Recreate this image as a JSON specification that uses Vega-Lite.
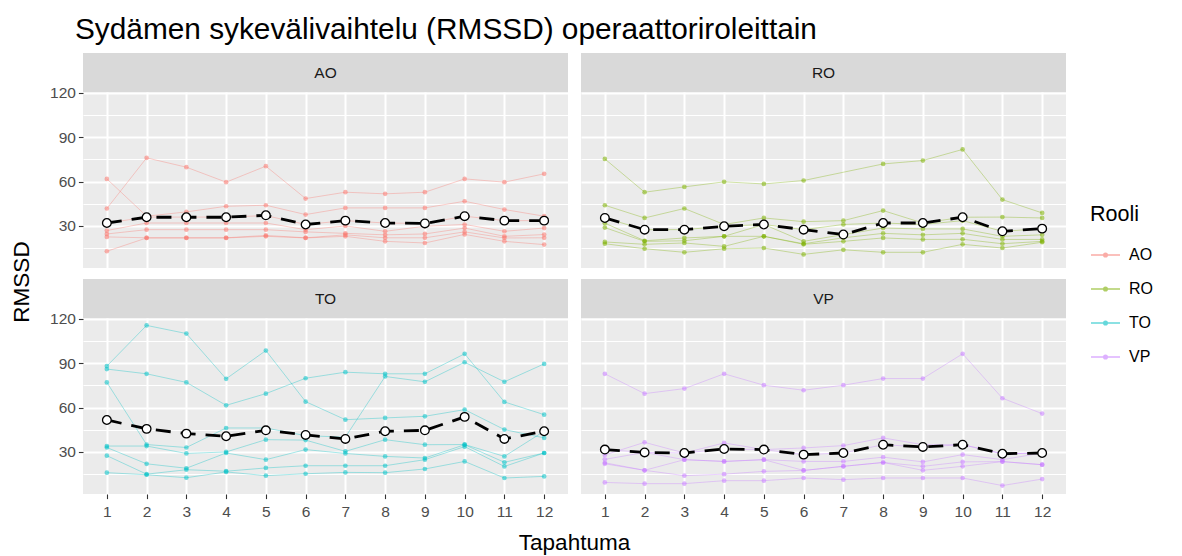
{
"$schema":"https://vega.github.io/schema/vega-lite/v6.json",
"padding":{"left":10,"top":15,"right":0,"bottom":0},
"title":{"text":"Sydämen sykevälivaihtelu (RMSSD) operaattoriroleittain","anchor":"start","frame":"group","fontSize":29.8,"fontWeight":"normal","color":"black","offset":-16,"baseline":"alphabetic","dx":65},
"config":{"font":"Liberation Sans","view":{"stroke":null},"range":{"category":["#F8766D","#7CAE00","#00BFC4","#C77CFF"]},
"axis":{"domain":false,"gridColor":"#FFFFFF","gridWidth":2,"gridOpacity":1,"labelColor":"#4D4D4D","labelFontSize":15.5,"tickColor":"#333333","tickSize":4.6,"tickWidth":1.1,"labelPadding":3,"labelFlush":false,"title":null},
"axisX":{"labelPadding":6}},
"datasets":{
"subjects":[
{"Rooli":"AO","Henkilo":"A1","Tapahtuma":1,"RMSSD":61.8},{"Rooli":"AO","Henkilo":"A1","Tapahtuma":2,"RMSSD":36.6},{"Rooli":"AO","Henkilo":"A1","Tapahtuma":3,"RMSSD":39.5},{"Rooli":"AO","Henkilo":"A1","Tapahtuma":4,"RMSSD":43.3},{"Rooli":"AO","Henkilo":"A1","Tapahtuma":5,"RMSSD":44},{"Rooli":"AO","Henkilo":"A1","Tapahtuma":6,"RMSSD":37.7},{"Rooli":"AO","Henkilo":"A1","Tapahtuma":7,"RMSSD":42.2},{"Rooli":"AO","Henkilo":"A1","Tapahtuma":8,"RMSSD":42.2},{"Rooli":"AO","Henkilo":"A1","Tapahtuma":9,"RMSSD":42.2},{"Rooli":"AO","Henkilo":"A1","Tapahtuma":10,"RMSSD":46.7},{"Rooli":"AO","Henkilo":"A1","Tapahtuma":11,"RMSSD":41.1},{"Rooli":"AO","Henkilo":"A1","Tapahtuma":12,"RMSSD":36.6},
{"Rooli":"AO","Henkilo":"A2","Tapahtuma":1,"RMSSD":41.8},{"Rooli":"AO","Henkilo":"A2","Tapahtuma":2,"RMSSD":76},{"Rooli":"AO","Henkilo":"A2","Tapahtuma":3,"RMSSD":69.7},{"Rooli":"AO","Henkilo":"A2","Tapahtuma":4,"RMSSD":59.6},{"Rooli":"AO","Henkilo":"A2","Tapahtuma":5,"RMSSD":70.4},{"Rooli":"AO","Henkilo":"A2","Tapahtuma":6,"RMSSD":48.5},{"Rooli":"AO","Henkilo":"A2","Tapahtuma":7,"RMSSD":52.8},{"Rooli":"AO","Henkilo":"A2","Tapahtuma":8,"RMSSD":51.7},{"Rooli":"AO","Henkilo":"A2","Tapahtuma":9,"RMSSD":52.8},{"Rooli":"AO","Henkilo":"A2","Tapahtuma":10,"RMSSD":61.8},{"Rooli":"AO","Henkilo":"A2","Tapahtuma":11,"RMSSD":59.6},{"Rooli":"AO","Henkilo":"A2","Tapahtuma":12,"RMSSD":65.2},
{"Rooli":"AO","Henkilo":"A3","Tapahtuma":1,"RMSSD":32},{"Rooli":"AO","Henkilo":"A3","Tapahtuma":2,"RMSSD":36},{"Rooli":"AO","Henkilo":"A3","Tapahtuma":3,"RMSSD":36},{"Rooli":"AO","Henkilo":"A3","Tapahtuma":4,"RMSSD":36},{"Rooli":"AO","Henkilo":"A3","Tapahtuma":5,"RMSSD":37},{"Rooli":"AO","Henkilo":"A3","Tapahtuma":6,"RMSSD":31},{"Rooli":"AO","Henkilo":"A3","Tapahtuma":7,"RMSSD":33.6},{"Rooli":"AO","Henkilo":"A3","Tapahtuma":8,"RMSSD":32},{"Rooli":"AO","Henkilo":"A3","Tapahtuma":9,"RMSSD":31.7},{"Rooli":"AO","Henkilo":"A3","Tapahtuma":10,"RMSSD":36.6},{"Rooli":"AO","Henkilo":"A3","Tapahtuma":11,"RMSSD":33.6},{"Rooli":"AO","Henkilo":"A3","Tapahtuma":12,"RMSSD":33.6},
{"Rooli":"AO","Henkilo":"A4","Tapahtuma":1,"RMSSD":26.9},{"Rooli":"AO","Henkilo":"A4","Tapahtuma":2,"RMSSD":32},{"Rooli":"AO","Henkilo":"A4","Tapahtuma":3,"RMSSD":32},{"Rooli":"AO","Henkilo":"A4","Tapahtuma":4,"RMSSD":32},{"Rooli":"AO","Henkilo":"A4","Tapahtuma":5,"RMSSD":32},{"Rooli":"AO","Henkilo":"A4","Tapahtuma":6,"RMSSD":27.5},{"Rooli":"AO","Henkilo":"A4","Tapahtuma":7,"RMSSD":30},{"Rooli":"AO","Henkilo":"A4","Tapahtuma":8,"RMSSD":26.4},{"Rooli":"AO","Henkilo":"A4","Tapahtuma":9,"RMSSD":29.8},{"Rooli":"AO","Henkilo":"A4","Tapahtuma":10,"RMSSD":31},{"Rooli":"AO","Henkilo":"A4","Tapahtuma":11,"RMSSD":26.4},{"Rooli":"AO","Henkilo":"A4","Tapahtuma":12,"RMSSD":28.6},
{"Rooli":"AO","Henkilo":"A5","Tapahtuma":1,"RMSSD":24.6},{"Rooli":"AO","Henkilo":"A5","Tapahtuma":2,"RMSSD":27.5},{"Rooli":"AO","Henkilo":"A5","Tapahtuma":3,"RMSSD":27.5},{"Rooli":"AO","Henkilo":"A5","Tapahtuma":4,"RMSSD":27.5},{"Rooli":"AO","Henkilo":"A5","Tapahtuma":5,"RMSSD":27.5},{"Rooli":"AO","Henkilo":"A5","Tapahtuma":6,"RMSSD":26},{"Rooli":"AO","Henkilo":"A5","Tapahtuma":7,"RMSSD":25},{"Rooli":"AO","Henkilo":"A5","Tapahtuma":8,"RMSSD":24},{"Rooli":"AO","Henkilo":"A5","Tapahtuma":9,"RMSSD":24.6},{"Rooli":"AO","Henkilo":"A5","Tapahtuma":10,"RMSSD":28.6},{"Rooli":"AO","Henkilo":"A5","Tapahtuma":11,"RMSSD":23},{"Rooli":"AO","Henkilo":"A5","Tapahtuma":12,"RMSSD":24.2},
{"Rooli":"AO","Henkilo":"A6","Tapahtuma":1,"RMSSD":22.6},{"Rooli":"AO","Henkilo":"A6","Tapahtuma":2,"RMSSD":22},{"Rooli":"AO","Henkilo":"A6","Tapahtuma":3,"RMSSD":22},{"Rooli":"AO","Henkilo":"A6","Tapahtuma":4,"RMSSD":22},{"Rooli":"AO","Henkilo":"A6","Tapahtuma":5,"RMSSD":23.6},{"Rooli":"AO","Henkilo":"A6","Tapahtuma":6,"RMSSD":22},{"Rooli":"AO","Henkilo":"A6","Tapahtuma":7,"RMSSD":24},{"Rooli":"AO","Henkilo":"A6","Tapahtuma":8,"RMSSD":22},{"Rooli":"AO","Henkilo":"A6","Tapahtuma":9,"RMSSD":22},{"Rooli":"AO","Henkilo":"A6","Tapahtuma":10,"RMSSD":26},{"Rooli":"AO","Henkilo":"A6","Tapahtuma":11,"RMSSD":21.9},{"Rooli":"AO","Henkilo":"A6","Tapahtuma":12,"RMSSD":22},
{"Rooli":"AO","Henkilo":"A7","Tapahtuma":1,"RMSSD":12.9},{"Rooli":"AO","Henkilo":"A7","Tapahtuma":2,"RMSSD":21.9},{"Rooli":"AO","Henkilo":"A7","Tapahtuma":3,"RMSSD":21.9},{"Rooli":"AO","Henkilo":"A7","Tapahtuma":4,"RMSSD":21.9},{"Rooli":"AO","Henkilo":"A7","Tapahtuma":5,"RMSSD":23},{"Rooli":"AO","Henkilo":"A7","Tapahtuma":6,"RMSSD":21.9},{"Rooli":"AO","Henkilo":"A7","Tapahtuma":7,"RMSSD":23},{"Rooli":"AO","Henkilo":"A7","Tapahtuma":8,"RMSSD":19.6},{"Rooli":"AO","Henkilo":"A7","Tapahtuma":9,"RMSSD":18.5},{"Rooli":"AO","Henkilo":"A7","Tapahtuma":10,"RMSSD":24.3},{"Rooli":"AO","Henkilo":"A7","Tapahtuma":11,"RMSSD":19.6},{"Rooli":"AO","Henkilo":"A7","Tapahtuma":12,"RMSSD":17.4},
{"Rooli":"RO","Henkilo":"R1","Tapahtuma":1,"RMSSD":75.3},{"Rooli":"RO","Henkilo":"R1","Tapahtuma":2,"RMSSD":52.8},{"Rooli":"RO","Henkilo":"R1","Tapahtuma":3,"RMSSD":56.4},{"Rooli":"RO","Henkilo":"R1","Tapahtuma":4,"RMSSD":59.8},{"Rooli":"RO","Henkilo":"R1","Tapahtuma":5,"RMSSD":58.4},{"Rooli":"RO","Henkilo":"R1","Tapahtuma":6,"RMSSD":60.7},{"Rooli":"RO","Henkilo":"R1","Tapahtuma":8,"RMSSD":71.9},{"Rooli":"RO","Henkilo":"R1","Tapahtuma":9,"RMSSD":74.2},{"Rooli":"RO","Henkilo":"R1","Tapahtuma":10,"RMSSD":81.7},{"Rooli":"RO","Henkilo":"R1","Tapahtuma":11,"RMSSD":47.8},{"Rooli":"RO","Henkilo":"R1","Tapahtuma":12,"RMSSD":38.8},
{"Rooli":"RO","Henkilo":"R2","Tapahtuma":1,"RMSSD":44},{"Rooli":"RO","Henkilo":"R2","Tapahtuma":2,"RMSSD":35.4},{"Rooli":"RO","Henkilo":"R2","Tapahtuma":3,"RMSSD":41.8},{"Rooli":"RO","Henkilo":"R2","Tapahtuma":4,"RMSSD":31},{"Rooli":"RO","Henkilo":"R2","Tapahtuma":5,"RMSSD":35.4},{"Rooli":"RO","Henkilo":"R2","Tapahtuma":6,"RMSSD":32.9},{"Rooli":"RO","Henkilo":"R2","Tapahtuma":7,"RMSSD":33.6},{"Rooli":"RO","Henkilo":"R2","Tapahtuma":8,"RMSSD":40.4},{"Rooli":"RO","Henkilo":"R2","Tapahtuma":9,"RMSSD":32},{"Rooli":"RO","Henkilo":"R2","Tapahtuma":10,"RMSSD":35.9},{"Rooli":"RO","Henkilo":"R2","Tapahtuma":11,"RMSSD":36},{"Rooli":"RO","Henkilo":"R2","Tapahtuma":12,"RMSSD":35.4},
{"Rooli":"RO","Henkilo":"R3","Tapahtuma":1,"RMSSD":35.4},{"Rooli":"RO","Henkilo":"R3","Tapahtuma":2,"RMSSD":27.5},{"Rooli":"RO","Henkilo":"R3","Tapahtuma":3,"RMSSD":27.5},{"Rooli":"RO","Henkilo":"R3","Tapahtuma":4,"RMSSD":29.8},{"Rooli":"RO","Henkilo":"R3","Tapahtuma":5,"RMSSD":31},{"Rooli":"RO","Henkilo":"R3","Tapahtuma":6,"RMSSD":27.5},{"Rooli":"RO","Henkilo":"R3","Tapahtuma":7,"RMSSD":31},{"Rooli":"RO","Henkilo":"R3","Tapahtuma":8,"RMSSD":32},{"Rooli":"RO","Henkilo":"R3","Tapahtuma":9,"RMSSD":31},{"Rooli":"RO","Henkilo":"R3","Tapahtuma":10,"RMSSD":33.6},{"Rooli":"RO","Henkilo":"R3","Tapahtuma":11,"RMSSD":26.4},{"Rooli":"RO","Henkilo":"R3","Tapahtuma":12,"RMSSD":28.2},
{"Rooli":"RO","Henkilo":"R4","Tapahtuma":1,"RMSSD":31.9},{"Rooli":"RO","Henkilo":"R4","Tapahtuma":2,"RMSSD":20},{"Rooli":"RO","Henkilo":"R4","Tapahtuma":3,"RMSSD":21.9},{"Rooli":"RO","Henkilo":"R4","Tapahtuma":4,"RMSSD":23},{"Rooli":"RO","Henkilo":"R4","Tapahtuma":5,"RMSSD":31},{"Rooli":"RO","Henkilo":"R4","Tapahtuma":6,"RMSSD":19.6},{"Rooli":"RO","Henkilo":"R4","Tapahtuma":7,"RMSSD":24.2},{"Rooli":"RO","Henkilo":"R4","Tapahtuma":8,"RMSSD":28.6},{"Rooli":"RO","Henkilo":"R4","Tapahtuma":9,"RMSSD":28},{"Rooli":"RO","Henkilo":"R4","Tapahtuma":10,"RMSSD":28},{"Rooli":"RO","Henkilo":"R4","Tapahtuma":11,"RMSSD":23},{"Rooli":"RO","Henkilo":"R4","Tapahtuma":12,"RMSSD":24},
{"Rooli":"RO","Henkilo":"R5","Tapahtuma":1,"RMSSD":28.9},{"Rooli":"RO","Henkilo":"R5","Tapahtuma":2,"RMSSD":19.6},{"Rooli":"RO","Henkilo":"R5","Tapahtuma":3,"RMSSD":20},{"Rooli":"RO","Henkilo":"R5","Tapahtuma":4,"RMSSD":23},{"Rooli":"RO","Henkilo":"R5","Tapahtuma":5,"RMSSD":23},{"Rooli":"RO","Henkilo":"R5","Tapahtuma":6,"RMSSD":18},{"Rooli":"RO","Henkilo":"R5","Tapahtuma":7,"RMSSD":22},{"Rooli":"RO","Henkilo":"R5","Tapahtuma":8,"RMSSD":25},{"Rooli":"RO","Henkilo":"R5","Tapahtuma":9,"RMSSD":24},{"Rooli":"RO","Henkilo":"R5","Tapahtuma":10,"RMSSD":25},{"Rooli":"RO","Henkilo":"R5","Tapahtuma":11,"RMSSD":20.9},{"Rooli":"RO","Henkilo":"R5","Tapahtuma":12,"RMSSD":20.9},
{"Rooli":"RO","Henkilo":"R6","Tapahtuma":1,"RMSSD":19.2},{"Rooli":"RO","Henkilo":"R6","Tapahtuma":2,"RMSSD":17.6},{"Rooli":"RO","Henkilo":"R6","Tapahtuma":3,"RMSSD":18.5},{"Rooli":"RO","Henkilo":"R6","Tapahtuma":4,"RMSSD":16.2},{"Rooli":"RO","Henkilo":"R6","Tapahtuma":5,"RMSSD":23},{"Rooli":"RO","Henkilo":"R6","Tapahtuma":6,"RMSSD":17.6},{"Rooli":"RO","Henkilo":"R6","Tapahtuma":7,"RMSSD":19.6},{"Rooli":"RO","Henkilo":"R6","Tapahtuma":8,"RMSSD":21.9},{"Rooli":"RO","Henkilo":"R6","Tapahtuma":9,"RMSSD":20.9},{"Rooli":"RO","Henkilo":"R6","Tapahtuma":10,"RMSSD":21},{"Rooli":"RO","Henkilo":"R6","Tapahtuma":11,"RMSSD":18},{"Rooli":"RO","Henkilo":"R6","Tapahtuma":12,"RMSSD":19.6},
{"Rooli":"RO","Henkilo":"R7","Tapahtuma":1,"RMSSD":18},{"Rooli":"RO","Henkilo":"R7","Tapahtuma":2,"RMSSD":14.6},{"Rooli":"RO","Henkilo":"R7","Tapahtuma":3,"RMSSD":12.2},{"Rooli":"RO","Henkilo":"R7","Tapahtuma":4,"RMSSD":14.6},{"Rooli":"RO","Henkilo":"R7","Tapahtuma":5,"RMSSD":15.1},{"Rooli":"RO","Henkilo":"R7","Tapahtuma":6,"RMSSD":10.8},{"Rooli":"RO","Henkilo":"R7","Tapahtuma":7,"RMSSD":13.9},{"Rooli":"RO","Henkilo":"R7","Tapahtuma":8,"RMSSD":12.2},{"Rooli":"RO","Henkilo":"R7","Tapahtuma":9,"RMSSD":12.2},{"Rooli":"RO","Henkilo":"R7","Tapahtuma":10,"RMSSD":17.6},{"Rooli":"RO","Henkilo":"R7","Tapahtuma":11,"RMSSD":15.1},{"Rooli":"RO","Henkilo":"R7","Tapahtuma":12,"RMSSD":19},
{"Rooli":"TO","Henkilo":"T1","Tapahtuma":1,"RMSSD":88},{"Rooli":"TO","Henkilo":"T1","Tapahtuma":2,"RMSSD":115.5},{"Rooli":"TO","Henkilo":"T1","Tapahtuma":3,"RMSSD":110},{"Rooli":"TO","Henkilo":"T1","Tapahtuma":4,"RMSSD":79.4},{"Rooli":"TO","Henkilo":"T1","Tapahtuma":5,"RMSSD":98.5},{"Rooli":"TO","Henkilo":"T1","Tapahtuma":6,"RMSSD":64},{"Rooli":"TO","Henkilo":"T1","Tapahtuma":7,"RMSSD":51.8},{"Rooli":"TO","Henkilo":"T1","Tapahtuma":8,"RMSSD":53},{"Rooli":"TO","Henkilo":"T1","Tapahtuma":9,"RMSSD":54.1},{"Rooli":"TO","Henkilo":"T1","Tapahtuma":10,"RMSSD":58.6},{"Rooli":"TO","Henkilo":"T1","Tapahtuma":11,"RMSSD":45.1},{"Rooli":"TO","Henkilo":"T1","Tapahtuma":12,"RMSSD":39.5},
{"Rooli":"TO","Henkilo":"T2","Tapahtuma":1,"RMSSD":86},{"Rooli":"TO","Henkilo":"T2","Tapahtuma":2,"RMSSD":82.8},{"Rooli":"TO","Henkilo":"T2","Tapahtuma":3,"RMSSD":77},{"Rooli":"TO","Henkilo":"T2","Tapahtuma":4,"RMSSD":61.5},{"Rooli":"TO","Henkilo":"T2","Tapahtuma":5,"RMSSD":69.4},{"Rooli":"TO","Henkilo":"T2","Tapahtuma":6,"RMSSD":79.8},{"Rooli":"TO","Henkilo":"T2","Tapahtuma":7,"RMSSD":83.9},{"Rooli":"TO","Henkilo":"T2","Tapahtuma":8,"RMSSD":82.8},{"Rooli":"TO","Henkilo":"T2","Tapahtuma":9,"RMSSD":82.8},{"Rooli":"TO","Henkilo":"T2","Tapahtuma":10,"RMSSD":96.3},{"Rooli":"TO","Henkilo":"T2","Tapahtuma":11,"RMSSD":63.8},{"Rooli":"TO","Henkilo":"T2","Tapahtuma":12,"RMSSD":55.2},
{"Rooli":"TO","Henkilo":"T3","Tapahtuma":1,"RMSSD":77},{"Rooli":"TO","Henkilo":"T3","Tapahtuma":2,"RMSSD":35},{"Rooli":"TO","Henkilo":"T3","Tapahtuma":3,"RMSSD":33},{"Rooli":"TO","Henkilo":"T3","Tapahtuma":4,"RMSSD":46.2},{"Rooli":"TO","Henkilo":"T3","Tapahtuma":5,"RMSSD":46.2},{"Rooli":"TO","Henkilo":"T3","Tapahtuma":6,"RMSSD":41},{"Rooli":"TO","Henkilo":"T3","Tapahtuma":7,"RMSSD":40},{"Rooli":"TO","Henkilo":"T3","Tapahtuma":8,"RMSSD":81},{"Rooli":"TO","Henkilo":"T3","Tapahtuma":9,"RMSSD":77.4},{"Rooli":"TO","Henkilo":"T3","Tapahtuma":10,"RMSSD":90.6},{"Rooli":"TO","Henkilo":"T3","Tapahtuma":11,"RMSSD":77.4},{"Rooli":"TO","Henkilo":"T3","Tapahtuma":12,"RMSSD":89.5},
{"Rooli":"TO","Henkilo":"T4","Tapahtuma":1,"RMSSD":34},{"Rooli":"TO","Henkilo":"T4","Tapahtuma":2,"RMSSD":34},{"Rooli":"TO","Henkilo":"T4","Tapahtuma":3,"RMSSD":29},{"Rooli":"TO","Henkilo":"T4","Tapahtuma":4,"RMSSD":30},{"Rooli":"TO","Henkilo":"T4","Tapahtuma":5,"RMSSD":38.3},{"Rooli":"TO","Henkilo":"T4","Tapahtuma":6,"RMSSD":38},{"Rooli":"TO","Henkilo":"T4","Tapahtuma":7,"RMSSD":30.4},{"Rooli":"TO","Henkilo":"T4","Tapahtuma":8,"RMSSD":38.3},{"Rooli":"TO","Henkilo":"T4","Tapahtuma":9,"RMSSD":34.9},{"Rooli":"TO","Henkilo":"T4","Tapahtuma":10,"RMSSD":35},{"Rooli":"TO","Henkilo":"T4","Tapahtuma":11,"RMSSD":27},{"Rooli":"TO","Henkilo":"T4","Tapahtuma":12,"RMSSD":44},
{"Rooli":"TO","Henkilo":"T5","Tapahtuma":1,"RMSSD":33},{"Rooli":"TO","Henkilo":"T5","Tapahtuma":2,"RMSSD":22},{"Rooli":"TO","Henkilo":"T5","Tapahtuma":3,"RMSSD":19},{"Rooli":"TO","Henkilo":"T5","Tapahtuma":4,"RMSSD":29.3},{"Rooli":"TO","Henkilo":"T5","Tapahtuma":5,"RMSSD":24.8},{"Rooli":"TO","Henkilo":"T5","Tapahtuma":6,"RMSSD":31.6},{"Rooli":"TO","Henkilo":"T5","Tapahtuma":7,"RMSSD":29},{"Rooli":"TO","Henkilo":"T5","Tapahtuma":8,"RMSSD":27},{"Rooli":"TO","Henkilo":"T5","Tapahtuma":9,"RMSSD":25.9},{"Rooli":"TO","Henkilo":"T5","Tapahtuma":10,"RMSSD":34.9},{"Rooli":"TO","Henkilo":"T5","Tapahtuma":11,"RMSSD":23},{"Rooli":"TO","Henkilo":"T5","Tapahtuma":12,"RMSSD":29.3},
{"Rooli":"TO","Henkilo":"T6","Tapahtuma":1,"RMSSD":27.5},{"Rooli":"TO","Henkilo":"T6","Tapahtuma":2,"RMSSD":15},{"Rooli":"TO","Henkilo":"T6","Tapahtuma":3,"RMSSD":18},{"Rooli":"TO","Henkilo":"T6","Tapahtuma":4,"RMSSD":17},{"Rooli":"TO","Henkilo":"T6","Tapahtuma":5,"RMSSD":19.2},{"Rooli":"TO","Henkilo":"T6","Tapahtuma":6,"RMSSD":20.7},{"Rooli":"TO","Henkilo":"T6","Tapahtuma":7,"RMSSD":20.7},{"Rooli":"TO","Henkilo":"T6","Tapahtuma":8,"RMSSD":20.7},{"Rooli":"TO","Henkilo":"T6","Tapahtuma":9,"RMSSD":24.8},{"Rooli":"TO","Henkilo":"T6","Tapahtuma":10,"RMSSD":33.6},{"Rooli":"TO","Henkilo":"T6","Tapahtuma":11,"RMSSD":20.2},{"Rooli":"TO","Henkilo":"T6","Tapahtuma":12,"RMSSD":29.3},
{"Rooli":"TO","Henkilo":"T7","Tapahtuma":1,"RMSSD":16},{"Rooli":"TO","Henkilo":"T7","Tapahtuma":2,"RMSSD":14.6},{"Rooli":"TO","Henkilo":"T7","Tapahtuma":3,"RMSSD":12.6},{"Rooli":"TO","Henkilo":"T7","Tapahtuma":4,"RMSSD":16.5},{"Rooli":"TO","Henkilo":"T7","Tapahtuma":5,"RMSSD":14},{"Rooli":"TO","Henkilo":"T7","Tapahtuma":6,"RMSSD":15.3},{"Rooli":"TO","Henkilo":"T7","Tapahtuma":7,"RMSSD":16.2},{"Rooli":"TO","Henkilo":"T7","Tapahtuma":8,"RMSSD":16},{"Rooli":"TO","Henkilo":"T7","Tapahtuma":9,"RMSSD":18.5},{"Rooli":"TO","Henkilo":"T7","Tapahtuma":10,"RMSSD":23.6},{"Rooli":"TO","Henkilo":"T7","Tapahtuma":11,"RMSSD":12.4},{"Rooli":"TO","Henkilo":"T7","Tapahtuma":12,"RMSSD":13.5},
{"Rooli":"VP","Henkilo":"V1","Tapahtuma":1,"RMSSD":82.8},{"Rooli":"VP","Henkilo":"V1","Tapahtuma":2,"RMSSD":69.4},{"Rooli":"VP","Henkilo":"V1","Tapahtuma":3,"RMSSD":72.8},{"Rooli":"VP","Henkilo":"V1","Tapahtuma":4,"RMSSD":82.8},{"Rooli":"VP","Henkilo":"V1","Tapahtuma":5,"RMSSD":75.1},{"Rooli":"VP","Henkilo":"V1","Tapahtuma":6,"RMSSD":71.7},{"Rooli":"VP","Henkilo":"V1","Tapahtuma":7,"RMSSD":75.1},{"Rooli":"VP","Henkilo":"V1","Tapahtuma":8,"RMSSD":79.6},{"Rooli":"VP","Henkilo":"V1","Tapahtuma":9,"RMSSD":79.6},{"Rooli":"VP","Henkilo":"V1","Tapahtuma":10,"RMSSD":96.3},{"Rooli":"VP","Henkilo":"V1","Tapahtuma":11,"RMSSD":66.3},{"Rooli":"VP","Henkilo":"V1","Tapahtuma":12,"RMSSD":55.9},
{"Rooli":"VP","Henkilo":"V2","Tapahtuma":1,"RMSSD":28},{"Rooli":"VP","Henkilo":"V2","Tapahtuma":2,"RMSSD":36.5},{"Rooli":"VP","Henkilo":"V2","Tapahtuma":3,"RMSSD":29.3},{"Rooli":"VP","Henkilo":"V2","Tapahtuma":4,"RMSSD":36.1},{"Rooli":"VP","Henkilo":"V2","Tapahtuma":5,"RMSSD":31.6},{"Rooli":"VP","Henkilo":"V2","Tapahtuma":6,"RMSSD":32.7},{"Rooli":"VP","Henkilo":"V2","Tapahtuma":7,"RMSSD":34.3},{"Rooli":"VP","Henkilo":"V2","Tapahtuma":8,"RMSSD":39.5},{"Rooli":"VP","Henkilo":"V2","Tapahtuma":9,"RMSSD":34.9},{"Rooli":"VP","Henkilo":"V2","Tapahtuma":10,"RMSSD":34.9},{"Rooli":"VP","Henkilo":"V2","Tapahtuma":11,"RMSSD":28.8},{"Rooli":"VP","Henkilo":"V2","Tapahtuma":12,"RMSSD":29.3},
{"Rooli":"VP","Henkilo":"V3","Tapahtuma":1,"RMSSD":31.6},{"Rooli":"VP","Henkilo":"V3","Tapahtuma":2,"RMSSD":29.7},{"Rooli":"VP","Henkilo":"V3","Tapahtuma":3,"RMSSD":29.3},{"Rooli":"VP","Henkilo":"V3","Tapahtuma":4,"RMSSD":32},{"Rooli":"VP","Henkilo":"V3","Tapahtuma":5,"RMSSD":31.6},{"Rooli":"VP","Henkilo":"V3","Tapahtuma":6,"RMSSD":28.2},{"Rooli":"VP","Henkilo":"V3","Tapahtuma":7,"RMSSD":29.3},{"Rooli":"VP","Henkilo":"V3","Tapahtuma":8,"RMSSD":34.9},{"Rooli":"VP","Henkilo":"V3","Tapahtuma":9,"RMSSD":33.4},{"Rooli":"VP","Henkilo":"V3","Tapahtuma":10,"RMSSD":34.9},{"Rooli":"VP","Henkilo":"V3","Tapahtuma":11,"RMSSD":28.8},{"Rooli":"VP","Henkilo":"V3","Tapahtuma":12,"RMSSD":29.3},
{"Rooli":"VP","Henkilo":"V4","Tapahtuma":1,"RMSSD":25},{"Rooli":"VP","Henkilo":"V4","Tapahtuma":2,"RMSSD":29.7},{"Rooli":"VP","Henkilo":"V4","Tapahtuma":3,"RMSSD":24.8},{"Rooli":"VP","Henkilo":"V4","Tapahtuma":4,"RMSSD":23.6},{"Rooli":"VP","Henkilo":"V4","Tapahtuma":5,"RMSSD":24.8},{"Rooli":"VP","Henkilo":"V4","Tapahtuma":6,"RMSSD":23.6},{"Rooli":"VP","Henkilo":"V4","Tapahtuma":7,"RMSSD":23.6},{"Rooli":"VP","Henkilo":"V4","Tapahtuma":8,"RMSSD":26.5},{"Rooli":"VP","Henkilo":"V4","Tapahtuma":9,"RMSSD":23.3},{"Rooli":"VP","Henkilo":"V4","Tapahtuma":10,"RMSSD":28.2},{"Rooli":"VP","Henkilo":"V4","Tapahtuma":11,"RMSSD":24.8},{"Rooli":"VP","Henkilo":"V4","Tapahtuma":12,"RMSSD":29.3},
{"Rooli":"VP","Henkilo":"V5","Tapahtuma":1,"RMSSD":22.7},{"Rooli":"VP","Henkilo":"V5","Tapahtuma":2,"RMSSD":17.6},{"Rooli":"VP","Henkilo":"V5","Tapahtuma":3,"RMSSD":24.8},{"Rooli":"VP","Henkilo":"V5","Tapahtuma":4,"RMSSD":23.6},{"Rooli":"VP","Henkilo":"V5","Tapahtuma":5,"RMSSD":24.8},{"Rooli":"VP","Henkilo":"V5","Tapahtuma":6,"RMSSD":17.5},{"Rooli":"VP","Henkilo":"V5","Tapahtuma":7,"RMSSD":20.3},{"Rooli":"VP","Henkilo":"V5","Tapahtuma":8,"RMSSD":22.9},{"Rooli":"VP","Henkilo":"V5","Tapahtuma":9,"RMSSD":20.3},{"Rooli":"VP","Henkilo":"V5","Tapahtuma":10,"RMSSD":23.3},{"Rooli":"VP","Henkilo":"V5","Tapahtuma":11,"RMSSD":23.5},{"Rooli":"VP","Henkilo":"V5","Tapahtuma":12,"RMSSD":21.4},
{"Rooli":"VP","Henkilo":"V6","Tapahtuma":1,"RMSSD":22},{"Rooli":"VP","Henkilo":"V6","Tapahtuma":2,"RMSSD":17.6},{"Rooli":"VP","Henkilo":"V6","Tapahtuma":3,"RMSSD":14},{"Rooli":"VP","Henkilo":"V6","Tapahtuma":4,"RMSSD":15},{"Rooli":"VP","Henkilo":"V6","Tapahtuma":5,"RMSSD":16.9},{"Rooli":"VP","Henkilo":"V6","Tapahtuma":6,"RMSSD":17.5},{"Rooli":"VP","Henkilo":"V6","Tapahtuma":7,"RMSSD":20.3},{"Rooli":"VP","Henkilo":"V6","Tapahtuma":8,"RMSSD":22.9},{"Rooli":"VP","Henkilo":"V6","Tapahtuma":9,"RMSSD":17.6},{"Rooli":"VP","Henkilo":"V6","Tapahtuma":10,"RMSSD":20.3},{"Rooli":"VP","Henkilo":"V6","Tapahtuma":11,"RMSSD":23.5},{"Rooli":"VP","Henkilo":"V6","Tapahtuma":12,"RMSSD":21.4},
{"Rooli":"VP","Henkilo":"V7","Tapahtuma":1,"RMSSD":9.4},{"Rooli":"VP","Henkilo":"V7","Tapahtuma":2,"RMSSD":8.6},{"Rooli":"VP","Henkilo":"V7","Tapahtuma":3,"RMSSD":8.6},{"Rooli":"VP","Henkilo":"V7","Tapahtuma":4,"RMSSD":10.6},{"Rooli":"VP","Henkilo":"V7","Tapahtuma":5,"RMSSD":10.6},{"Rooli":"VP","Henkilo":"V7","Tapahtuma":6,"RMSSD":12.4},{"Rooli":"VP","Henkilo":"V7","Tapahtuma":7,"RMSSD":11.3},{"Rooli":"VP","Henkilo":"V7","Tapahtuma":8,"RMSSD":12.4},{"Rooli":"VP","Henkilo":"V7","Tapahtuma":9,"RMSSD":12.4},{"Rooli":"VP","Henkilo":"V7","Tapahtuma":10,"RMSSD":12.4},{"Rooli":"VP","Henkilo":"V7","Tapahtuma":11,"RMSSD":7.3},{"Rooli":"VP","Henkilo":"V7","Tapahtuma":12,"RMSSD":11.7}
],
"means":[
{"Rooli":"AO","Tapahtuma":1,"RMSSD":32},{"Rooli":"AO","Tapahtuma":2,"RMSSD":35.9},{"Rooli":"AO","Tapahtuma":3,"RMSSD":35.9},{"Rooli":"AO","Tapahtuma":4,"RMSSD":35.9},{"Rooli":"AO","Tapahtuma":5,"RMSSD":37.2},{"Rooli":"AO","Tapahtuma":6,"RMSSD":31},{"Rooli":"AO","Tapahtuma":7,"RMSSD":33.6},{"Rooli":"AO","Tapahtuma":8,"RMSSD":32},{"Rooli":"AO","Tapahtuma":9,"RMSSD":31.7},{"Rooli":"AO","Tapahtuma":10,"RMSSD":36.6},{"Rooli":"AO","Tapahtuma":11,"RMSSD":33.6},{"Rooli":"AO","Tapahtuma":12,"RMSSD":33.6},
{"Rooli":"RO","Tapahtuma":1,"RMSSD":35.4},{"Rooli":"RO","Tapahtuma":2,"RMSSD":27.5},{"Rooli":"RO","Tapahtuma":3,"RMSSD":27.5},{"Rooli":"RO","Tapahtuma":4,"RMSSD":29.8},{"Rooli":"RO","Tapahtuma":5,"RMSSD":31},{"Rooli":"RO","Tapahtuma":6,"RMSSD":27.5},{"Rooli":"RO","Tapahtuma":7,"RMSSD":24.2},{"Rooli":"RO","Tapahtuma":8,"RMSSD":32},{"Rooli":"RO","Tapahtuma":9,"RMSSD":32},{"Rooli":"RO","Tapahtuma":10,"RMSSD":35.9},{"Rooli":"RO","Tapahtuma":11,"RMSSD":26.4},{"Rooli":"RO","Tapahtuma":12,"RMSSD":28.2},
{"Rooli":"TO","Tapahtuma":1,"RMSSD":51.6},{"Rooli":"TO","Tapahtuma":2,"RMSSD":45.6},{"Rooli":"TO","Tapahtuma":3,"RMSSD":42.4},{"Rooli":"TO","Tapahtuma":4,"RMSSD":40.6},{"Rooli":"TO","Tapahtuma":5,"RMSSD":44.6},{"Rooli":"TO","Tapahtuma":6,"RMSSD":41.5},{"Rooli":"TO","Tapahtuma":7,"RMSSD":38.8},{"Rooli":"TO","Tapahtuma":8,"RMSSD":44},{"Rooli":"TO","Tapahtuma":9,"RMSSD":44.6},{"Rooli":"TO","Tapahtuma":10,"RMSSD":53.7},{"Rooli":"TO","Tapahtuma":11,"RMSSD":38.8},{"Rooli":"TO","Tapahtuma":12,"RMSSD":44},
{"Rooli":"VP","Tapahtuma":1,"RMSSD":31.6},{"Rooli":"VP","Tapahtuma":2,"RMSSD":29.7},{"Rooli":"VP","Tapahtuma":3,"RMSSD":29.3},{"Rooli":"VP","Tapahtuma":4,"RMSSD":32},{"Rooli":"VP","Tapahtuma":5,"RMSSD":31.6},{"Rooli":"VP","Tapahtuma":6,"RMSSD":28.2},{"Rooli":"VP","Tapahtuma":7,"RMSSD":29.3},{"Rooli":"VP","Tapahtuma":8,"RMSSD":34.9},{"Rooli":"VP","Tapahtuma":9,"RMSSD":33.4},{"Rooli":"VP","Tapahtuma":10,"RMSSD":34.9},{"Rooli":"VP","Tapahtuma":11,"RMSSD":28.8},{"Rooli":"VP","Tapahtuma":12,"RMSSD":29.3}
]},
"bounds":"flush","spacing":49,
"hconcat":[
{"width":24,"height":458,"data":{"values":[{"label":"RMSSD"}]},"mark":{"type":"text","fontSize":22.5,"angle":270,"color":"black","baseline":"middle"},"encoding":{"text":{"field":"label"}}},
{"bounds":"full","spacing":7,"vconcat":[
{"bounds":"full","spacing":11,"vconcat":[
{"bounds":"full","spacing":13,"hconcat":[
{"bounds":"flush","spacing":0,"vconcat":[
{"width":485,"height":39,"view":{"fill":"#D9D9D9","stroke":null},"data":{"values":[{"Rooli":"AO"}]},"mark":{"type":"text","fontSize":15.5,"color":"#1A1A1A","baseline":"middle"},"encoding":{"text":{"field":"Rooli"}}},
{"width":485,"height":176,"view":{"fill":"#EBEBEB","stroke":null},"resolve":{"axis":{"y":"independent"}},"layer":[
{"data":{"name":"subjects"},"transform":[{"filter":"datum.Rooli === 'AO'"}],"mark":{"type":"line","strokeWidth":1,"opacity":0.35},"encoding":{"x":{"field":"Tapahtuma","type":"quantitative","scale":{"domain":[0.4,12.6],"nice":false,"zero":false},"axis":{"values":[1,2,3,4,5,6,7,8,9,10,11,12],"labels":false,"ticks":false,"grid":true}},"y":{"field":"RMSSD","type":"quantitative","scale":{"domain":[1.6,120.5],"nice":false,"zero":false},"axis":{"values":[30,60,90,120],"grid":true}},"detail":{"field":"Henkilo"},"color":{"field":"Rooli","legend":{"orient":"right","offset":-127,"padding":151,"title":"Rooli","titleFontSize":21.5,"titleFontWeight":"normal","titleColor":"black","titlePadding":14,"labelFontSize":16,"labelColor":"black","labelOffset":8,"rowPadding":10,"symbolType":"M-1,0H1M-0.12,0A0.12,0.12,0,1,1,0.12,0A0.12,0.12,0,1,1,-0.12,0Z","symbolSize":841,"symbolOpacity":0.6,"symbolStrokeWidth":1.6}}}},
{"data":{"name":"subjects"},"transform":[{"filter":"datum.Rooli === 'AO'"}],"mark":{"type":"point","filled":true,"size":22,"opacity":0.55},"encoding":{"x":{"field":"Tapahtuma","type":"quantitative"},"y":{"field":"RMSSD","type":"quantitative","axis":{"values":[15,45,75,105],"grid":true,"gridWidth":1,"labels":false,"ticks":false}},"color":{"field":"Rooli","legend":null}}},
{"data":{"name":"means"},"transform":[{"filter":"datum.Rooli === 'AO'"}],"mark":{"type":"line","color":"black","strokeWidth":2.8,"strokeDash":[15,10]},"encoding":{"x":{"field":"Tapahtuma","type":"quantitative"},"y":{"field":"RMSSD","type":"quantitative","axis":null}}},
{"data":{"name":"means"},"transform":[{"filter":"datum.Rooli === 'AO'"}],"mark":{"type":"point","shape":"circle","filled":true,"fill":"white","stroke":"black","strokeWidth":1.3,"size":75,"opacity":1},"encoding":{"x":{"field":"Tapahtuma","type":"quantitative"},"y":{"field":"RMSSD","type":"quantitative","axis":null}}}
]}]},
{"bounds":"flush","spacing":0,"vconcat":[
{"width":485,"height":39,"view":{"fill":"#D9D9D9","stroke":null},"data":{"values":[{"Rooli":"RO"}]},"mark":{"type":"text","fontSize":15.5,"color":"#1A1A1A","baseline":"middle"},"encoding":{"text":{"field":"Rooli"}}},
{"width":485,"height":176,"view":{"fill":"#EBEBEB","stroke":null},"resolve":{"axis":{"y":"independent"}},"layer":[
{"data":{"name":"subjects"},"transform":[{"filter":"datum.Rooli === 'RO'"}],"mark":{"type":"line","strokeWidth":1,"opacity":0.35},"encoding":{"x":{"field":"Tapahtuma","type":"quantitative","scale":{"domain":[0.4,12.6],"nice":false,"zero":false},"axis":{"values":[1,2,3,4,5,6,7,8,9,10,11,12],"labels":false,"ticks":false,"grid":true}},"y":{"field":"RMSSD","type":"quantitative","scale":{"domain":[1.6,120.5],"nice":false,"zero":false},"axis":{"values":[30,60,90,120],"grid":true,"labels":false,"ticks":false}},"detail":{"field":"Henkilo"},"color":{"field":"Rooli","legend":{"orient":"right","offset":-127,"padding":151,"title":"Rooli","titleFontSize":21.5,"titleFontWeight":"normal","titleColor":"black","titlePadding":14,"labelFontSize":16,"labelColor":"black","labelOffset":8,"rowPadding":10,"symbolType":"M-1,0H1M-0.12,0A0.12,0.12,0,1,1,0.12,0A0.12,0.12,0,1,1,-0.12,0Z","symbolSize":841,"symbolOpacity":0.6,"symbolStrokeWidth":1.6}}}},
{"data":{"name":"subjects"},"transform":[{"filter":"datum.Rooli === 'RO'"}],"mark":{"type":"point","filled":true,"size":22,"opacity":0.55},"encoding":{"x":{"field":"Tapahtuma","type":"quantitative"},"y":{"field":"RMSSD","type":"quantitative","axis":{"values":[15,45,75,105],"grid":true,"gridWidth":1,"labels":false,"ticks":false}},"color":{"field":"Rooli","legend":null}}},
{"data":{"name":"means"},"transform":[{"filter":"datum.Rooli === 'RO'"}],"mark":{"type":"line","color":"black","strokeWidth":2.8,"strokeDash":[15,10]},"encoding":{"x":{"field":"Tapahtuma","type":"quantitative"},"y":{"field":"RMSSD","type":"quantitative","axis":null}}},
{"data":{"name":"means"},"transform":[{"filter":"datum.Rooli === 'RO'"}],"mark":{"type":"point","shape":"circle","filled":true,"fill":"white","stroke":"black","strokeWidth":1.3,"size":75,"opacity":1},"encoding":{"x":{"field":"Tapahtuma","type":"quantitative"},"y":{"field":"RMSSD","type":"quantitative","axis":null}}}
]}]}
]},
{"bounds":"full","spacing":13,"hconcat":[
{"bounds":"flush","spacing":0,"vconcat":[
{"width":485,"height":39,"view":{"fill":"#D9D9D9","stroke":null},"data":{"values":[{"Rooli":"TO"}]},"mark":{"type":"text","fontSize":15.5,"color":"#1A1A1A","baseline":"middle"},"encoding":{"text":{"field":"Rooli"}}},
{"width":485,"height":176,"view":{"fill":"#EBEBEB","stroke":null},"resolve":{"axis":{"y":"independent"}},"layer":[
{"data":{"name":"subjects"},"transform":[{"filter":"datum.Rooli === 'TO'"}],"mark":{"type":"line","strokeWidth":1,"opacity":0.35},"encoding":{"x":{"field":"Tapahtuma","type":"quantitative","scale":{"domain":[0.4,12.6],"nice":false,"zero":false},"axis":{"values":[1,2,3,4,5,6,7,8,9,10,11,12],"format":"d","grid":true}},"y":{"field":"RMSSD","type":"quantitative","scale":{"domain":[1.6,120.5],"nice":false,"zero":false},"axis":{"values":[30,60,90,120],"grid":true}},"detail":{"field":"Henkilo"},"color":{"field":"Rooli","legend":{"orient":"right","offset":-127,"padding":151,"title":"Rooli","titleFontSize":21.5,"titleFontWeight":"normal","titleColor":"black","titlePadding":14,"labelFontSize":16,"labelColor":"black","labelOffset":8,"rowPadding":10,"symbolType":"M-1,0H1M-0.12,0A0.12,0.12,0,1,1,0.12,0A0.12,0.12,0,1,1,-0.12,0Z","symbolSize":841,"symbolOpacity":0.6,"symbolStrokeWidth":1.6}}}},
{"data":{"name":"subjects"},"transform":[{"filter":"datum.Rooli === 'TO'"}],"mark":{"type":"point","filled":true,"size":22,"opacity":0.55},"encoding":{"x":{"field":"Tapahtuma","type":"quantitative"},"y":{"field":"RMSSD","type":"quantitative","axis":{"values":[15,45,75,105],"grid":true,"gridWidth":1,"labels":false,"ticks":false}},"color":{"field":"Rooli","legend":null}}},
{"data":{"name":"means"},"transform":[{"filter":"datum.Rooli === 'TO'"}],"mark":{"type":"line","color":"black","strokeWidth":2.8,"strokeDash":[15,10]},"encoding":{"x":{"field":"Tapahtuma","type":"quantitative"},"y":{"field":"RMSSD","type":"quantitative","axis":null}}},
{"data":{"name":"means"},"transform":[{"filter":"datum.Rooli === 'TO'"}],"mark":{"type":"point","shape":"circle","filled":true,"fill":"white","stroke":"black","strokeWidth":1.3,"size":75,"opacity":1},"encoding":{"x":{"field":"Tapahtuma","type":"quantitative"},"y":{"field":"RMSSD","type":"quantitative","axis":null}}}
]}]},
{"bounds":"flush","spacing":0,"vconcat":[
{"width":485,"height":39,"view":{"fill":"#D9D9D9","stroke":null},"data":{"values":[{"Rooli":"VP"}]},"mark":{"type":"text","fontSize":15.5,"color":"#1A1A1A","baseline":"middle"},"encoding":{"text":{"field":"Rooli"}}},
{"width":485,"height":176,"view":{"fill":"#EBEBEB","stroke":null},"resolve":{"axis":{"y":"independent"}},"layer":[
{"data":{"name":"subjects"},"transform":[{"filter":"datum.Rooli === 'VP'"}],"mark":{"type":"line","strokeWidth":1,"opacity":0.35},"encoding":{"x":{"field":"Tapahtuma","type":"quantitative","scale":{"domain":[0.4,12.6],"nice":false,"zero":false},"axis":{"values":[1,2,3,4,5,6,7,8,9,10,11,12],"format":"d","grid":true}},"y":{"field":"RMSSD","type":"quantitative","scale":{"domain":[1.6,120.5],"nice":false,"zero":false},"axis":{"values":[30,60,90,120],"grid":true,"labels":false,"ticks":false}},"detail":{"field":"Henkilo"},"color":{"field":"Rooli","legend":{"orient":"right","offset":-127,"padding":151,"title":"Rooli","titleFontSize":21.5,"titleFontWeight":"normal","titleColor":"black","titlePadding":14,"labelFontSize":16,"labelColor":"black","labelOffset":8,"rowPadding":10,"symbolType":"M-1,0H1M-0.12,0A0.12,0.12,0,1,1,0.12,0A0.12,0.12,0,1,1,-0.12,0Z","symbolSize":841,"symbolOpacity":0.6,"symbolStrokeWidth":1.6}}}},
{"data":{"name":"subjects"},"transform":[{"filter":"datum.Rooli === 'VP'"}],"mark":{"type":"point","filled":true,"size":22,"opacity":0.55},"encoding":{"x":{"field":"Tapahtuma","type":"quantitative"},"y":{"field":"RMSSD","type":"quantitative","axis":{"values":[15,45,75,105],"grid":true,"gridWidth":1,"labels":false,"ticks":false}},"color":{"field":"Rooli","legend":null}}},
{"data":{"name":"means"},"transform":[{"filter":"datum.Rooli === 'VP'"}],"mark":{"type":"line","color":"black","strokeWidth":2.8,"strokeDash":[15,10]},"encoding":{"x":{"field":"Tapahtuma","type":"quantitative"},"y":{"field":"RMSSD","type":"quantitative","axis":null}}},
{"data":{"name":"means"},"transform":[{"filter":"datum.Rooli === 'VP'"}],"mark":{"type":"point","shape":"circle","filled":true,"fill":"white","stroke":"black","strokeWidth":1.3,"size":75,"opacity":1},"encoding":{"x":{"field":"Tapahtuma","type":"quantitative"},"y":{"field":"RMSSD","type":"quantitative","axis":null}}}
]}]}
]}
]},
{"width":983,"height":30,"data":{"values":[{"label":"Tapahtuma"}]},"mark":{"type":"text","fontSize":22.5,"color":"black","baseline":"middle"},"encoding":{"text":{"field":"label"}}}
]}
]
}
